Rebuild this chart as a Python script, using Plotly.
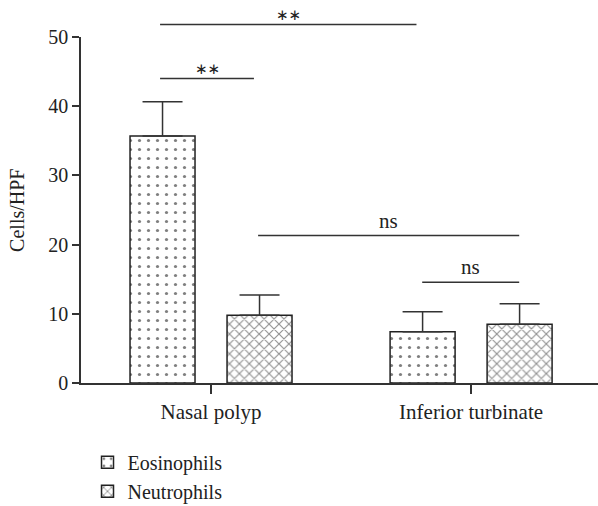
import plotly.graph_objects as go

categories = ["Nasal polyp", "Inferior turbinate"]
eosinophils = [35.7, 7.4]
eosinophils_err = [4.95, 2.9]
neutrophils = [9.8, 8.5]
neutrophils_err = [2.9, 2.95]
y_ticks = [0, 10, 20, 30, 40, 50]

# significance brackets: (x0, x1, y level, label)
brackets = [
    (-0.196, 0.79, 51.8, "∗∗"),
    (-0.196, 0.165, 44.0, "∗∗"),
    (0.181, 1.185, 21.3, "ns"),
    (0.812, 1.185, 14.55, "ns"),
]

FONT = "Liberation Serif"
YMAX = 50
axcol = "#333333"
txtcol = "#222222"

fig = go.Figure()
fig.add_trace(go.Bar(
    name="Eosinophils", x=categories, y=eosinophils,
    error_y=dict(type="data", array=eosinophils_err, arrayminus=[0, 0], symmetric=False,
                 color=axcol, thickness=1.5, width=20),
    marker=dict(color="white", line=dict(color="#222222", width=1.5),
                pattern=dict(shape=".", fgcolor="black", bgcolor="white", size=9, solidity=0.1)),
))
fig.add_trace(go.Bar(
    name="Neutrophils", x=categories, y=neutrophils,
    error_y=dict(type="data", array=neutrophils_err, arrayminus=[0, 0], symmetric=False,
                 color=axcol, thickness=1.5, width=20),
    marker=dict(color="white", line=dict(color="#222222", width=1.5),
                pattern=dict(shape="x", fgcolor="#222222", bgcolor="white", size=7, solidity=0.3)),
))

shapes = []
annotations = []
for x0, x1, yv, lab in brackets:
    shapes.append(dict(type="line", xref="x", yref="paper", x0=x0, x1=x1,
                       y0=yv / YMAX, y1=yv / YMAX, line=dict(color=axcol, width=1.5)))
    if lab == "ns":
        annotations.append(dict(x=(x0 + x1) / 2, y=yv / YMAX, xref="x", yref="paper",
                                text=lab, showarrow=False, yanchor="bottom", yshift=1,
                                font=dict(family=FONT, size=21, color=txtcol)))
    else:
        annotations.append(dict(x=(x0 + x1) / 2, y=yv / YMAX, xref="x", yref="paper",
                                text=lab, showarrow=False, yanchor="middle", yshift=10,
                                font=dict(family="DejaVu Sans", size=15, color=txtcol)))

# y-axis title
annotations.append(dict(x=-0.124, y=0.5, xref="paper", yref="paper", text="Cells/HPF",
                        textangle=-90, showarrow=False, xanchor="center", yanchor="middle",
                        font=dict(family=FONT, size=20, color=txtcol)))

fig.update_layout(
    width=598, height=506,
    margin=dict(l=81, r=0, t=37, b=123, autoexpand=False),
    paper_bgcolor="white", plot_bgcolor="white",
    barmode="group", bargap=0.254, bargroupgap=0.33,
    font=dict(family=FONT, size=21, color=txtcol),
    shapes=shapes, annotations=annotations,
    showlegend=True,
    legend=dict(x=0.0126, y=-0.173, xanchor="left", yanchor="top",
                orientation="v", font=dict(family=FONT, size=20, color=txtcol),
                bgcolor="rgba(0,0,0,0)", tracegroupgap=0),
    xaxis=dict(range=[-0.5, 1.488], showline=True, linecolor=axcol, linewidth=1.5,
               ticks="outside", ticklen=9, tickwidth=1.5, tickcolor=axcol, automargin=False,
               showgrid=False, zeroline=False, tickfont=dict(size=21)),
    yaxis=dict(range=[0, YMAX], tickvals=y_ticks, showline=True, linecolor=axcol, linewidth=1.5,
               ticks="outside", ticklen=7, tickwidth=1.5, tickcolor=axcol, automargin=False,
               showgrid=False, zeroline=False, tickfont=dict(size=20)),
)

fig.write_html("out.html", config={"displayModeBar": False},
               post_script="document.body.style.margin='0';document.body.style.overflow='hidden';")
